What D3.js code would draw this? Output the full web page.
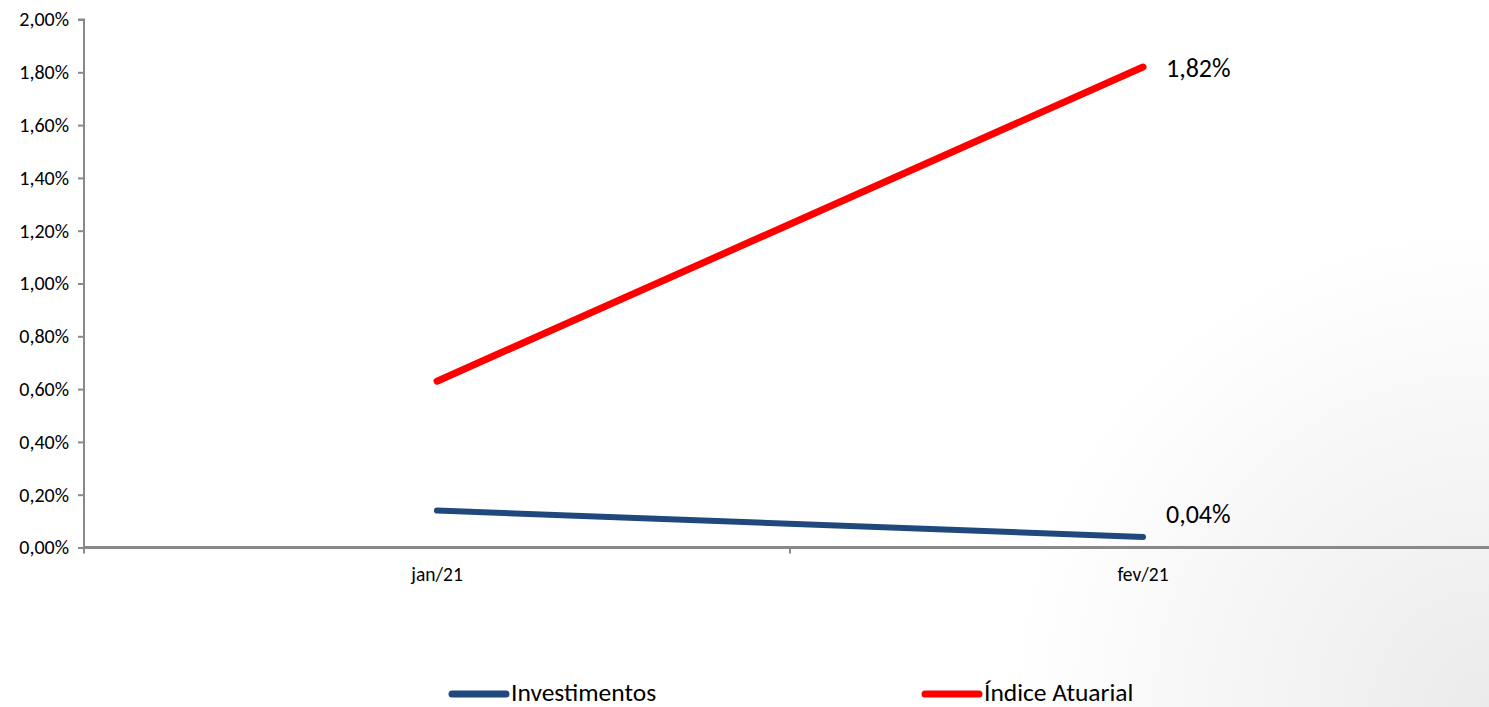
<!DOCTYPE html>
<html><head><meta charset="utf-8">
<script src="https://cdn.jsdelivr.net/npm/d3@7"></script>
<style>
html,body{margin:0;padding:0;background:#fff;}
svg{display:block;font-family:Carlito,Lato,"Open Sans",sans-serif;}
</style></head>
<body>
<svg id="c" width="1489" height="707"></svg>
<script>
const categories = ["jan/21", "fev/21"];
const investimentos = [0.14, 0.04];
const indiceAtuarial = [0.63, 1.82];
const yTicks = [0, 0.2, 0.4, 0.6, 0.8, 1.0, 1.2, 1.4, 1.6, 1.8, 2.0];
const seriesNames = ["Investimentos", "Índice Atuarial"];
const seriesColors = ["#1F497D", "#FF0000"];

(function(){
const svg = d3.select("#c");
const W = 1489, H = 707;

const defs = svg.append("defs");
const rg = defs.append("radialGradient").attr("id","bg")
  .attr("gradientUnits","userSpaceOnUse")
  .attr("cx", W).attr("cy", H).attr("r", 480);
rg.append("stop").attr("offset","0%").attr("stop-color","#ebebeb");
rg.append("stop").attr("offset","100%").attr("stop-color","#ffffff");
svg.append("rect").attr("width",W).attr("height",H).attr("fill","url(#bg)");

const pl = 84, pr = 84 + 706*2, pt = 19.5, pb = 547.5;
const x = d3.scaleBand().domain(categories).range([pl, pr]).padding(0);
const y = d3.scaleLinear().domain([0, 2]).range([pb, pt]);
const fmt = v => d3.format(".2f")(v).replace(".", ",") + "%";

// y axis
const ya = svg.append("g").attr("transform",`translate(${pl},0)`)
  .call(d3.axisLeft(y).tickValues(yTicks).tickSize(6).tickPadding(9).tickFormat(fmt));
ya.select(".domain").attr("stroke","#898989").attr("stroke-width",2).attr("d",`M-6,${pt}H0V${pb}`);
ya.selectAll(".tick line").attr("stroke","#898989").attr("stroke-width",2);
ya.selectAll(".tick text").attr("font-size",20).attr("fill","#000").attr("font-family","Carlito,Lato,sans-serif");

// x axis
const xa = svg.append("g").attr("transform",`translate(0,${pb})`)
  .call(d3.axisBottom(x).tickSize(0).tickPadding(20));
xa.select(".domain").attr("stroke","#898989").attr("stroke-width",3).attr("d",`M${pl},0H${pr}`);
xa.selectAll(".tick text").attr("font-size",19.5).attr("fill","#000").attr("font-family","Carlito,Lato,sans-serif");
const bounds = [pl, ...categories.map(c => x(c) + x.bandwidth())];
svg.append("g").selectAll("line").data(bounds).join("line")
  .attr("x1", d=>d).attr("x2", d=>d).attr("y1", pb).attr("y2", pb+6)
  .attr("stroke","#898989").attr("stroke-width",2);

const cx = c => x(c) + x.bandwidth()/2;
const line = d3.line().x((d,i)=>cx(categories[i])).y(d=>y(d));
const data = [investimentos, indiceAtuarial];
const widths = [6, 7];
data.forEach((vals, k) => {
  svg.append("path").datum(vals).attr("d", line)
    .attr("fill","none").attr("stroke", seriesColors[k]).attr("stroke-width", widths[k])
    .attr("stroke-linecap","round").attr("stroke-linejoin","round");
  const last = vals.length - 1;
  svg.append("text").attr("x", cx(categories[last]) + 23).attr("y", y(vals[last]) + (k===0 ? -23 : 1))
    .attr("dy","0.35em").attr("font-size",26).attr("fill","#000").text(fmt(vals[last]));
});

const legendX = [450, 923];
seriesNames.forEach((n, k) => {
  const g = svg.append("g").attr("transform",`translate(${legendX[k]},694)`);
  g.append("line").attr("x1",2).attr("x2",56).attr("y1",0).attr("y2",0)
    .attr("stroke",seriesColors[k]).attr("stroke-width",7).attr("stroke-linecap","round");
  g.append("text").attr("x",61).attr("y",-2).attr("dy","0.35em").attr("font-size",25.5).attr("fill","#000").text(n);
});
})();
</script>
</body></html>
